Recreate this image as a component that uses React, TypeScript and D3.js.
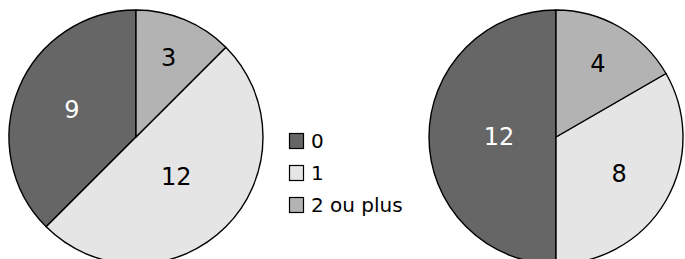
import React from "react";
import * as d3 from "d3";

const categories = ["0", "1", "2 ou plus"];
const leftValues = [9, 12, 3];
const rightValues = [12, 8, 4];
const colors = ["#666666", "#e5e5e5", "#b3b3b3"];
const textColors = ["#ffffff", "#000000", "#000000"];

const W = 685;
const H = 259;
const R = 127;

function Pie({ values, cx, cy }: { values: number[]; cx: number; cy: number }) {
  const pie = d3
    .pie<number>()
    .sort(null)
    .startAngle(0)
    .endAngle(-2 * Math.PI);
  const arcs = pie(values);
  const arc = d3.arc<d3.PieArcDatum<number>>().innerRadius(0).outerRadius(R);
  return (
    <g transform={`translate(${cx},${cy})`}>
      {arcs.map((a, i) => (
        <path key={i} d={arc(a) || ""} fill={colors[i]} stroke="#000" strokeWidth={1.4} strokeLinejoin="round" />
      ))}
      {arcs.map((a, i) => {
        const half = Math.abs(a.endAngle - a.startAngle) / 2;
        const mid = (a.startAngle + a.endAngle) / 2;
        const rho = (2 * R * Math.sin(half)) / (3 * half) + 3;
        const x = rho * Math.sin(mid);
        const y = -rho * Math.cos(mid);
        return (
          <text
            key={"t" + i}
            x={x}
            y={y}
            textAnchor="middle"
            dominantBaseline="central"
            fill={textColors[i]}
            fontSize={24}
            fontFamily="DejaVu Sans"
          >
            {values[i]}
          </text>
        );
      })}
    </g>
  );
}

export default function App() {
  return (
    <svg width={W} height={H} style={{ position: "absolute", left: 0, top: 0, background: "#fff" }}>
      <Pie values={leftValues} cx={136} cy={137} />
      <Pie values={rightValues} cx={556} cy={137} />
      <g>
        {categories.map((c, i) => (
          <g key={c} transform={`translate(289,${141 + i * 32})`}>
            <rect x={0.5} y={-7.5} width={14} height={15} fill={colors[i]} stroke="#000" strokeWidth={1.2} />
            <text x={22} y={0} dominantBaseline="central" fontSize={20} fontFamily="DejaVu Sans" fill="#000">
              {c}
            </text>
          </g>
        ))}
      </g>
    </svg>
  );
}
